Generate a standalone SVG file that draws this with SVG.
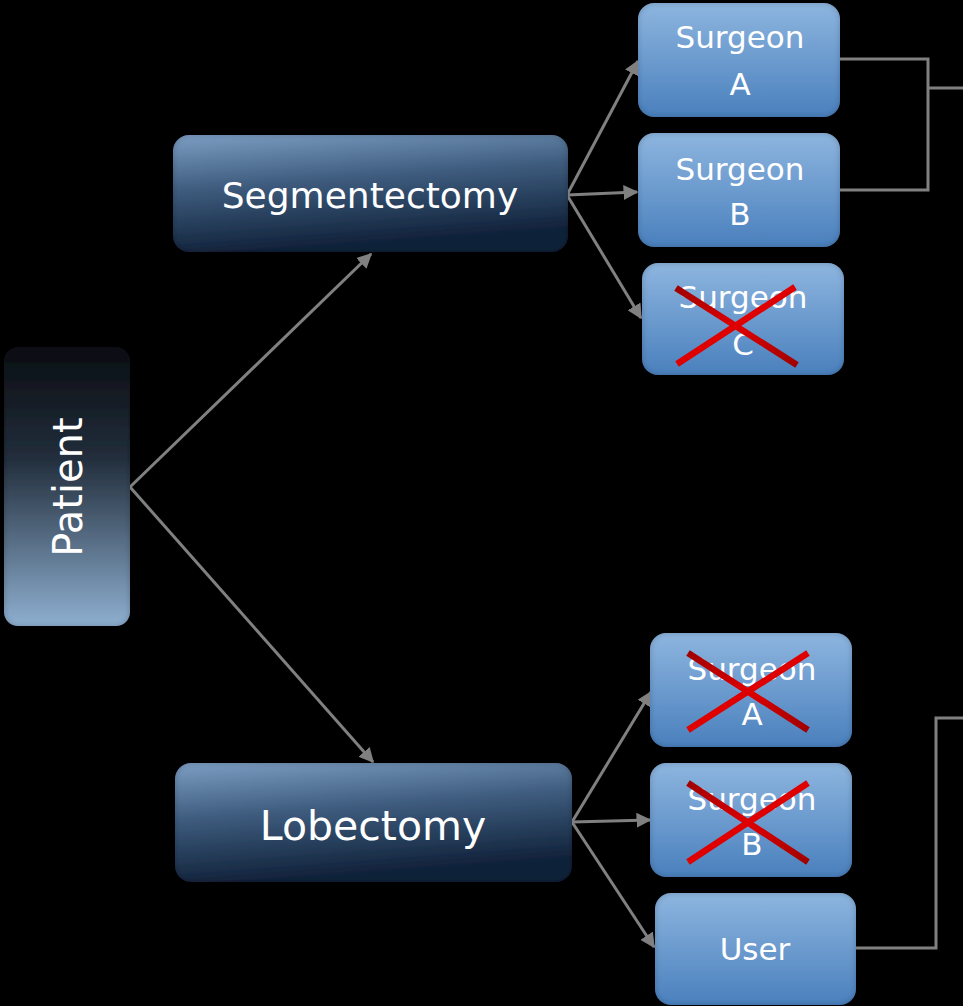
<svg xmlns="http://www.w3.org/2000/svg" width="963" height="1006" viewBox="0 0 963 1006">
<defs>
<linearGradient id="gBlue" x1="0" y1="0" x2="0" y2="1">
<stop offset="0" stop-color="#8db5df"/><stop offset="1" stop-color="#4a80bd"/>
</linearGradient>
<linearGradient id="gDark" x1="0" y1="0" x2="0.25" y2="1">
<stop offset="0" stop-color="#7d9ec3"/><stop offset="0.45" stop-color="#3e5c7e"/><stop offset="1" stop-color="#0f2038"/>
</linearGradient>
<linearGradient id="gPat" x1="0" y1="0" x2="0" y2="1">
<stop offset="0" stop-color="#0a0d12"/><stop offset="0.4" stop-color="#222e3c"/><stop offset="1" stop-color="#8eafd0"/>
</linearGradient>
<linearGradient id="gRed" x1="0" y1="0" x2="1" y2="1">
<stop offset="0" stop-color="#a00000"/><stop offset="0.5" stop-color="#e00000"/><stop offset="1" stop-color="#a00000"/>
</linearGradient>
<marker id="arr" viewBox="0 0 10 10" refX="9" refY="5" markerWidth="5" markerHeight="5" orient="auto" markerUnits="strokeWidth">
<path d="M0,0 L10,5 L0,10 z" fill="#808080"/>
</marker>
<filter id="bev" x="-5%" y="-5%" width="110%" height="110%">
<feFlood flood-color="#000" result="f"/>
<feComposite in="f" in2="SourceAlpha" operator="out" result="inv"/>
<feGaussianBlur in="inv" stdDeviation="3" result="b"/>
<feComposite in="b" in2="SourceAlpha" operator="in" result="sh"/>
<feComponentTransfer in="sh" result="sh2"><feFuncA type="linear" slope="0.45"/></feComponentTransfer>
<feMerge><feMergeNode in="SourceGraphic"/><feMergeNode in="sh2"/></feMerge>
</filter>
</defs>
<style>
.blue{fill:url(#gBlue);filter:url(#bev)}
.dark{fill:url(#gDark);filter:url(#bev)}
.pat{fill:url(#gPat);filter:url(#bev)}
text{font-family:"DejaVu Sans","Noto Sans",sans-serif;fill:#ffffff;text-anchor:middle}
.s{font-size:31px}
.c{stroke:#808080;stroke-width:3;fill:none}
.x{stroke:url(#gRed);stroke-width:6.5;stroke-linecap:butt}
</style>
<rect width="963" height="1006" fill="#000000"/>
<g id="connectors">
<line class="c" x1="130" y1="487" x2="371" y2="254" marker-end="url(#arr)"/>
<line class="c" x1="130" y1="487" x2="373" y2="762" marker-end="url(#arr)"/>
<line class="c" x1="567" y1="195" x2="638" y2="61" marker-end="url(#arr)"/>
<line class="c" x1="567" y1="195" x2="637" y2="192" marker-end="url(#arr)"/>
<line class="c" x1="567" y1="195" x2="641" y2="318" marker-end="url(#arr)"/>
<line class="c" x1="572" y1="822" x2="651" y2="692" marker-end="url(#arr)"/>
<line class="c" x1="572" y1="822" x2="650" y2="820" marker-end="url(#arr)"/>
<line class="c" x1="572" y1="822" x2="654" y2="947" marker-end="url(#arr)"/>
<polyline class="c" points="840,59 928,59 928,190 840,190"/>
<line class="c" x1="928" y1="88" x2="963" y2="88"/>
<polyline class="c" points="856,948 936,948 936,718 963,718"/>
</g>
<g id="patient">
<rect class="pat" x="4" y="347" width="126" height="279" rx="14"/>
<text transform="translate(82,487) rotate(-90)" style="font-size:40px">Patient</text>
</g>
<g id="segmentectomy">
<rect class="dark" x="173" y="135" width="395" height="117" rx="16"/>
<text x="370" y="208" style="font-size:36px">Segmentectomy</text>
</g>
<g id="lobectomy">
<rect class="dark" x="175" y="763" width="397" height="119" rx="16"/>
<text x="373" y="840" style="font-size:41px">Lobectomy</text>
</g>
<g id="surgeon-a-seg">
<rect class="blue" x="638" y="3" width="202" height="114" rx="16"/>
<text class="s" x="740" y="48">Surgeon</text>
<text class="s" x="740" y="95">A</text>
</g>
<g id="surgeon-b-seg">
<rect class="blue" x="638" y="133" width="202" height="114" rx="16"/>
<text class="s" x="740" y="180">Surgeon</text>
<text class="s" x="740" y="225">B</text>
</g>
<g id="surgeon-c-seg">
<rect class="blue" x="642" y="263" width="202" height="112" rx="16"/>
<text class="s" x="743" y="308">Surgeon</text>
<text class="s" x="743" y="355">C</text>
<line class="x" x1="676" y1="288" x2="797" y2="365"/>
<line class="x" x1="677" y1="364" x2="795" y2="287"/>
</g>
<g id="surgeon-a-lob">
<rect class="blue" x="650" y="633" width="202" height="114" rx="16"/>
<text class="s" x="752" y="680">Surgeon</text>
<text class="s" x="752" y="725">A</text>
<line class="x" x1="688" y1="653" x2="808" y2="730"/>
<line class="x" x1="688" y1="730" x2="808" y2="653"/>
</g>
<g id="surgeon-b-lob">
<rect class="blue" x="650" y="763" width="202" height="114" rx="16"/>
<text class="s" x="752" y="810">Surgeon</text>
<text class="s" x="752" y="855">B</text>
<line class="x" x1="688" y1="783" x2="808" y2="862"/>
<line class="x" x1="688" y1="862" x2="808" y2="783"/>
</g>
<g id="user">
<rect class="blue" x="655" y="893" width="201" height="112" rx="16"/>
<text class="s" x="755" y="960">User</text>
</g>
</svg>
